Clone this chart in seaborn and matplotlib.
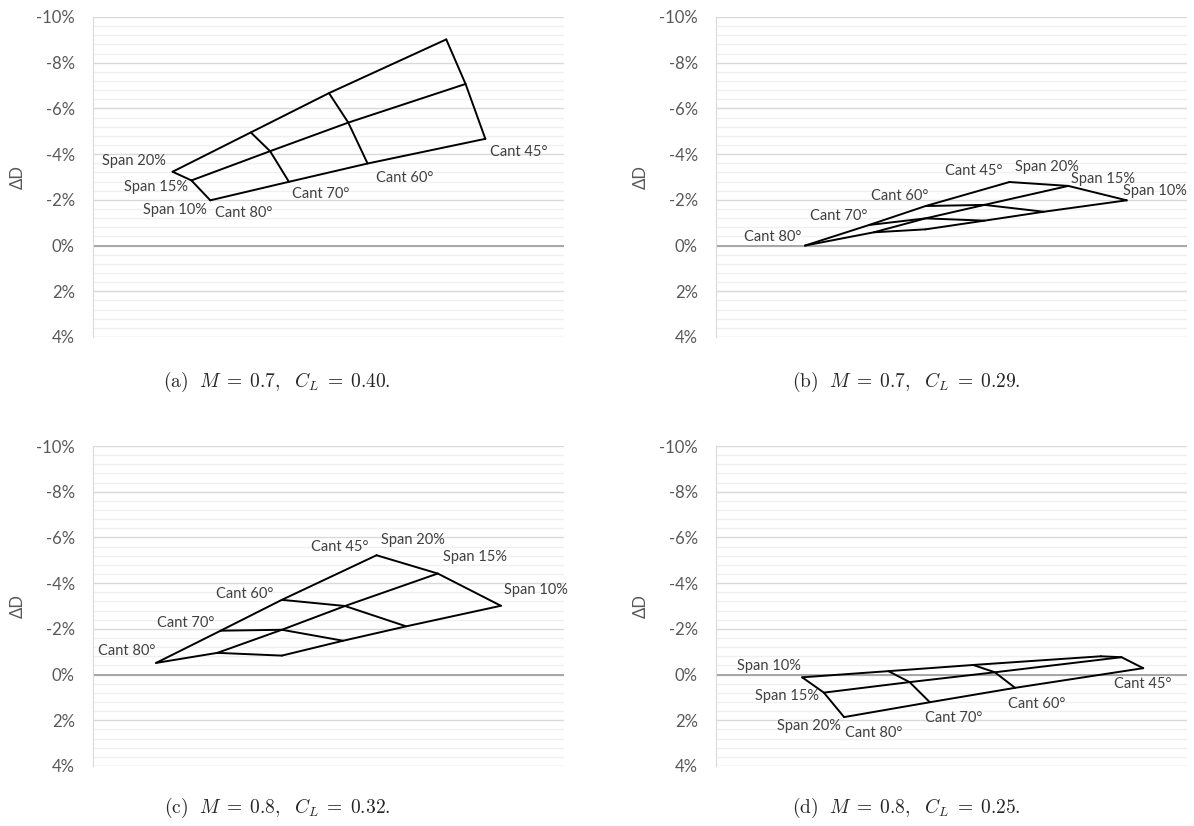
import numpy as np
import pandas as pd
import seaborn as sns
import matplotlib.pyplot as plt
from matplotlib.ticker import MultipleLocator, FuncFormatter

# carpet grid: rows = span (20, 15, 10 %), columns = cant (80, 70, 60, 45 deg)
SPANS = [20, 15, 10]
CANTS = [80, 70, 60, 45]

# x is an unlabelled carpet offset (0-100 across the axes), y is delta D in %
A_X = [[16.9, 33.5, 50.1, 75.0], [20.9, 37.6, 54.2, 79.1], [24.9, 41.6, 58.3, 83.3]]
A_Y = [[-3.23, -4.95, -6.67, -9.02], [-2.85, -4.13, -5.38, -7.07], [-1.98, -2.79, -3.59, -4.67]]

B_X = [[18.9, 32.5, 44.5, 62.3], [33.5, 44.5, 57.0, 74.8], [44.5, 57.0, 69.6, 87.2]]
B_Y = [[0.0, -0.90, -1.73, -2.78], [-0.58, -1.19, -1.78, -2.61], [-0.71, -1.09, -1.48, -1.98]]

C_X = [[13.4, 27.1, 40.1, 60.2], [26.4, 40.1, 53.5, 73.2], [40.1, 53.1, 66.5, 86.6]]
C_Y = [[-0.51, -1.92, -3.27, -5.22], [-0.95, -1.96, -3.00, -4.42], [-0.83, -1.48, -2.11, -3.01]]

D_X = [[27.2, 45.4, 63.5, 90.7], [22.9, 41.1, 59.2, 86.1], [18.3, 36.6, 54.6, 81.7]]
D_Y = [[1.86, 1.21, 0.58, -0.28], [0.79, 0.33, -0.10, -0.76], [0.12, -0.15, -0.42, -0.80]]

CAPTIONS = [
    r"$\mathrm{(a)}\ \ M\;=\;0.7,\ \ C_L\;=\;0.40.$",
    r"$\mathrm{(b)}\ \ M\;=\;0.7,\ \ C_L\;=\;0.29.$",
    r"$\mathrm{(c)}\ \ M\;=\;0.8,\ \ C_L\;=\;0.32.$",
    r"$\mathrm{(d)}\ \ M\;=\;0.8,\ \ C_L\;=\;0.25.$",
]

# (text, span row, cant col, dx px, dy px, ha)
LABELS_A = [("Span 20%", 0, 0, -7, 11, "right"), ("Span 15%", 1, 0, -3, -7, "right"),
            ("Span 10%", 2, 0, -3, -10, "right"), ("Cant 80°", 2, 0, 5, -13, "left"),
            ("Cant 70°", 2, 1, 3, -12, "left"), ("Cant 60°", 2, 2, 8, -14, "left"),
            ("Cant 45°", 2, 3, 5, -13, "left")]
LABELS_B = [("Cant 80°", 0, 0, -4, 9, "right"), ("Cant 70°", 0, 1, -2, 9, "right"),
            ("Cant 60°", 0, 2, 3, 10, "right"), ("Cant 45°", 0, 3, -7, 11, "right"),
            ("Span 20%", 0, 3, 6, 15, "left"), ("Span 15%", 1, 3, 3, 7, "left"),
            ("Span 10%", 2, 3, -4, 9, "left")]
LABELS_C = [("Cant 80°", 0, 0, -1, 12, "right"), ("Cant 70°", 0, 1, -6, 8, "right"),
            ("Cant 60°", 0, 2, -8, 6, "right"), ("Cant 45°", 0, 3, -8, 8, "right"),
            ("Span 20%", 0, 3, 4, 15, "left"), ("Span 15%", 1, 3, 5, 17, "left"),
            ("Span 10%", 2, 3, 3, 16, "left")]
LABELS_D = [("Span 10%", 2, 0, -1, 11, "right"), ("Span 15%", 1, 0, -5, -3, "right"),
            ("Span 20%", 0, 0, -3, -9, "right"), ("Cant 80°", 0, 0, 1, -16, "left"),
            ("Cant 70°", 0, 1, -5, -16, "left"), ("Cant 60°", 0, 2, -7, -16, "left"),
            ("Cant 45°", 0, 3, 0, -16, "center")]

PANELS = [(A_X, A_Y, LABELS_A), (B_X, B_Y, LABELS_B), (C_X, C_Y, LABELS_C), (D_X, D_Y, LABELS_D)]

sns.set_style("white")
plt.rcParams["font.family"] = ["Lato", "DejaVu Sans"]
plt.rcParams["mathtext.fontset"] = "cm"


def carpet_frame(xs, ys):
    rows = []
    for i, span in enumerate(SPANS):
        for j, cant in enumerate(CANTS):
            rows.append({"span": span, "cant": cant, "x": xs[i][j], "y": ys[i][j]})
    return pd.DataFrame(rows)


def draw_panel(ax, xs, ys, labels):
    df = carpet_frame(xs, ys)
    # span lines, then cant lines
    sns.lineplot(data=df, x="x", y="y", units="span", estimator=None, sort=False,
                 color="black", lw=1.4, ax=ax, legend=False, zorder=4)
    sns.lineplot(data=df, x="x", y="y", units="cant", estimator=None, sort=False,
                 color="black", lw=1.4, ax=ax, legend=False, zorder=4)
    for text, i, j, dx, dy, ha in labels:
        ax.annotate(text, (xs[i][j], ys[i][j]), xytext=(dx, dy), textcoords="offset pixels",
                    ha=ha, va="center", fontsize=10.5, color="#404040", zorder=5)

    ax.set_xlim(0, 100)
    ax.set_ylim(4, -10)
    ax.yaxis.set_major_locator(MultipleLocator(2))
    ax.yaxis.set_minor_locator(MultipleLocator(0.4))
    ax.yaxis.set_major_formatter(FuncFormatter(lambda v, p: f"{v:.0f}%"))
    ax.grid(True, axis="y", which="major", color="#d9d9d9", lw=1, zorder=0)
    ax.grid(True, axis="y", which="minor", color="#f0f0f0", lw=1, zorder=0)
    ax.axhline(0, color="#a6a6a6", lw=1.4, zorder=2)
    ax.set_xticks([])
    ax.set_xlabel("")
    ax.tick_params(axis="y", which="both", length=0, pad=13, labelsize=12, labelcolor="#595959")
    for side in ["top", "right", "bottom"]:
        ax.spines[side].set_visible(False)
    ax.spines["left"].set_color("#d9d9d9")
    ax.set_ylabel("ΔD", fontsize=12, color="#595959", va="center")
    ax.yaxis.set_label_coords(-0.16, 0.5)


fig = plt.figure(figsize=(11.94, 8.26), dpi=100)
W, H = 1194, 826
boxes = [(93, 17), (716, 17), (93, 446), (716, 446)]
cap_pos = [(277, 382), (906, 382), (277, 808), (906, 808)]

for (left, top), (xs, ys, labels), cap, (cx, cy) in zip(boxes, PANELS, CAPTIONS, cap_pos):
    ax = fig.add_axes([left / W, 1 - (top + 320) / H, 471 / W, 320 / H])
    draw_panel(ax, xs, ys, labels)
    fig.text(cx / W, 1 - cy / H, cap, ha="center", va="center", fontsize=14)

fig.savefig("out.png", dpi=100, facecolor="white")
